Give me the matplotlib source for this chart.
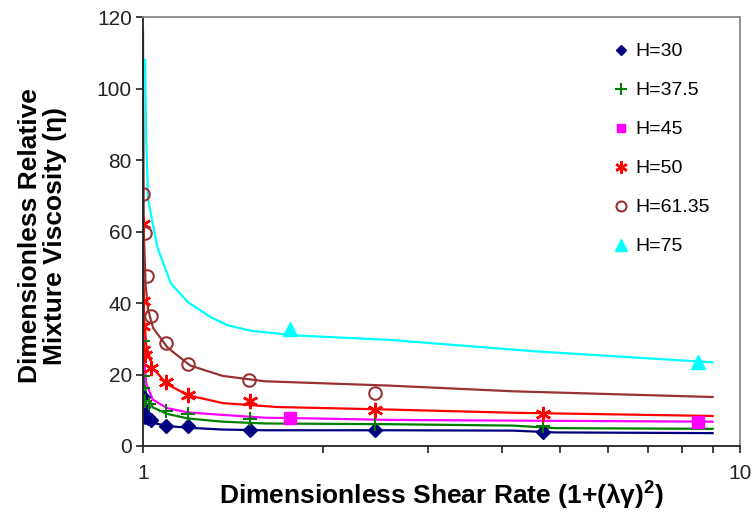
import matplotlib
matplotlib.use("Agg")
import matplotlib.pyplot as plt
from matplotlib.ticker import FixedLocator, NullFormatter, FixedFormatter

plt.rcParams['font.family'] = ['Liberation Sans', 'DejaVu Sans']
plt.rcParams['mathtext.default'] = 'regular'

# ---- measured points ----
h30_x = [1.0, 1.0, 1.0, 1.008, 1.021, 1.032, 1.092, 1.19, 1.51, 2.45, 4.68]
h30_y = [13.6, 10.9, 9.1, 8.1, 7.7, 7.3, 5.7, 5.7, 4.6, 4.6, 4.0]

h375_x = [1.0, 1.0, 1.0, 1.008, 1.024, 1.094, 1.19, 1.51, 2.45, 4.68]
h375_y = [29.5, 19.7, 16.1, 12.6, 11.8, 9.7, 8.9, 7.5, 6.2, 5.7]

h45_x = [1.765, 8.51]
h45_y = [7.9, 6.6]

h50_x = [1.0, 1.0, 1.0, 1.0, 1.008, 1.03, 1.092, 1.19, 1.51, 2.45, 4.68]
h50_y = [62.0, 40.7, 33.6, 26.8, 25.5, 21.8, 18.0, 14.4, 12.7, 10.1, 8.9]

h6135_x = [1.0, 1.008, 1.014, 1.031, 1.092, 1.19, 1.506, 2.45]
h6135_y = [70.4, 59.5, 47.6, 36.4, 28.9, 22.9, 18.5, 14.9]

h75_x = [1.765, 8.51]
h75_y = [32.6, 23.5]

# ---- model curves ----
l30_x = [1.0, 1.004, 1.013, 1.038, 1.097, 1.19, 1.36, 1.6, 2.58, 4.17, 4.9, 9.0]
l30_y = [13.0, 9.5, 7.6, 6.5, 5.6, 5.1, 4.6, 4.4, 4.4, 4.3, 3.8, 3.6]

l375_x = [1.0, 1.004, 1.013, 1.038, 1.097, 1.19, 1.36, 1.6, 2.58, 4.17, 4.9, 9.0]
l375_y = [30.0, 18.0, 14.4, 10.8, 9.0, 7.7, 6.8, 6.3, 6.1, 5.7, 5.0, 4.8]

l45_x = [1.0, 1.004, 1.013, 1.038, 1.097, 1.19, 1.36, 1.6, 1.8, 2.58, 4.17, 9.0]
l45_y = [45.0, 24.0, 17.4, 13.0, 10.6, 9.4, 8.7, 7.9, 7.8, 7.3, 7.1, 6.8]

l50_x = [1.0, 1.004, 1.013, 1.038, 1.097, 1.19, 1.36, 1.68, 2.58, 4.17, 9.0]
l50_y = [62.0, 36.0, 28.0, 21.9, 17.3, 14.2, 12.0, 10.9, 10.2, 9.3, 8.4]

l6135_x = [1.0, 1.003, 1.01, 1.02, 1.04, 1.1, 1.2, 1.36, 1.6, 2.58, 4.17, 9.0]
l6135_y = [116.0, 60.0, 45.0, 38.0, 33.0, 27.5, 22.5, 19.6, 18.1, 16.9, 15.3, 13.7]

l75_x = [1.008, 1.012, 1.02, 1.057, 1.113, 1.19, 1.3, 1.384, 1.52, 1.816, 2.58, 4.52, 9.0]
l75_y = [108.0, 87.0, 69.0, 55.6, 45.5, 40.2, 36.0, 33.8, 32.2, 30.9, 29.7, 26.5, 23.4]

labels = ["H=30", "H=37.5", "H=45", "H=50", "H=61.35", "H=75"]
x_ticks = [1, 10]
x_tick_labels = ["1", "10"]
y_ticks = [0, 20, 40, 60, 80, 100, 120]

c_blue, c_green, c_mag, c_red, c_brown, c_cyan = "#000080", "#008000", "#FF00FF", "#FF0000", "#993333", "#00FFFF"

fig = plt.figure(figsize=(7.55, 5.22), dpi=100)
ax = fig.add_axes([0.1894, 0.1456, 0.7907, 0.8218])

lw = 1.6
ax.plot(l30_x, l30_y, color=c_blue, lw=lw)
ax.plot(l375_x, l375_y, color=c_green, lw=lw)
ax.plot(l45_x, l45_y, color=c_mag, lw=lw)
ax.plot(l50_x, l50_y, color=c_red, lw=lw)
ax.plot(l6135_x, l6135_y, color=c_brown, lw=lw)
ax.plot(l75_x, l75_y, color=c_cyan, lw=lw)

ax.plot(h30_x, h30_y, ls="none", marker="D", ms=7, color=c_blue, label=labels[0])
ax.plot(h375_x, h375_y, ls="none", marker="+", ms=10, mew=1.5, color=c_green, label=labels[1])
ax.plot(h45_x, h45_y, ls="none", marker="s", ms=8, color=c_mag, label=labels[2])
ax.plot(h50_x, h50_y, ls="none", marker=(6, 2, 0), ms=11, mew=1.8, color=c_red, label=labels[3])
ax.plot(h6135_x, h6135_y, ls="none", marker="o", ms=9, mfc="none", mew=1.5, color=c_brown, label=labels[4])
ax.plot(h75_x, h75_y, ls="none", marker="^", ms=10, color=c_cyan, label=labels[5])

ax.set_xscale("log")
ax.set_xlim(1, 10)
ax.set_ylim(0, 120)
ax.xaxis.set_major_locator(FixedLocator(x_ticks))
ax.xaxis.set_major_formatter(FixedFormatter(x_tick_labels))
ax.xaxis.set_minor_locator(FixedLocator([2, 3, 4, 5, 6, 7, 8, 9]))
ax.xaxis.set_minor_formatter(NullFormatter())
ax.set_yticks(y_ticks)
ax.tick_params(axis="both", which="major", direction="out", length=5, width=1.2, labelsize=15, colors="#222222")
ax.tick_params(axis="x", which="minor", direction="out", length=5, width=1.2, colors="#222222")
ax.tick_params(axis="x", which="major", pad=8)
ax.tick_params(axis="y", which="major", pad=3)

for s in ["left", "bottom"]:
    ax.spines[s].set_color("#222222")
    ax.spines[s].set_linewidth(1.3)
for s in ["top", "right"]:
    ax.spines[s].set_color("#888888")
    ax.spines[s].set_linewidth(1.3)

ax.set_xlabel("Dimensionless Shear Rate (1+(λγ)$^{2}$)", fontsize=19, fontweight="bold", labelpad=-2)
ax.set_ylabel("Dimensionless Relative\nMixture Viscosity (η)", fontsize=19, fontweight="bold", linespacing=1.05)
ax.yaxis.set_label_coords(-0.128, 0.49)

leg = ax.legend(loc="upper right", bbox_to_anchor=(0.962, 0.958), frameon=False, fontsize=14,
                handlelength=0.8, handletextpad=0.3, labelspacing=1.1, markerscale=0.8,
                borderaxespad=0.0)

fig.savefig("out.png", dpi=100)
